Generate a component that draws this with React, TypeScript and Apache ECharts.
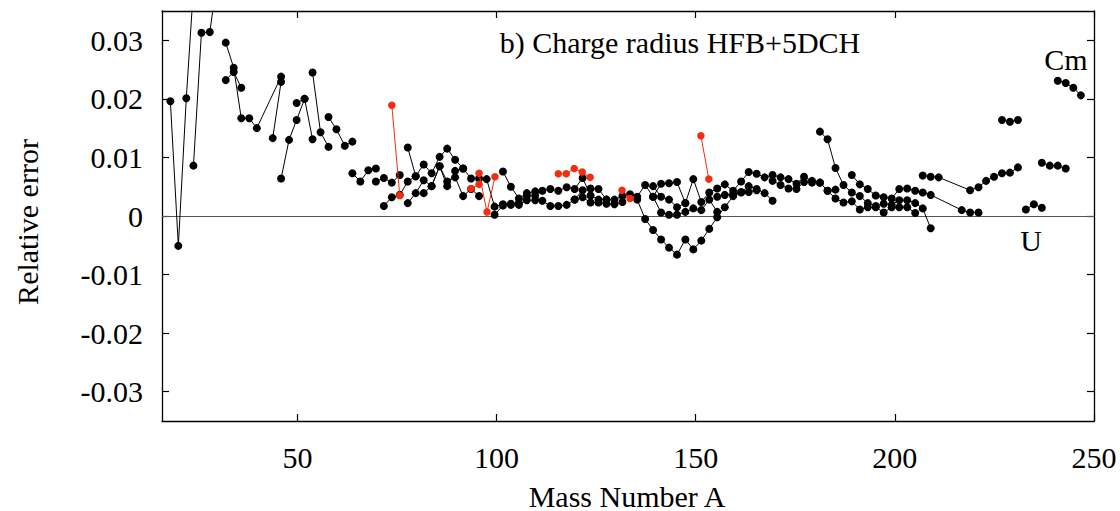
import React, { useEffect, useRef } from "react";
import * as echarts from "echarts";

type Pt = [number, number];

// x-axis and y-axis tick values
const xTicks = [50, 100, 150, 200, 250];
const yTicks = [-0.03, -0.02, -0.01, 0, 0.01, 0.02, 0.03];

// ---- black chains (Mass number A, relative error) ----
const c01: Pt[] = [[18.1, 0.0196], [20.1, -0.0051], [22.1, 0.0201], [24.0, 0.0400]];
const c02: Pt[] = [[23.9, 0.0086], [25.9, 0.0313], [28.0, 0.0314], [30.0, 0.0410]];
const c03: Pt[] = [[32.0, 0.0296], [34.0, 0.0253], [35.9, 0.0167], [37.9, 0.0167], [39.8, 0.0150], [45.9, 0.0238]];
const c04: Pt[] = [[32.0, 0.0232], [34.0, 0.0246], [35.9, 0.0219]];
const c05: Pt[] = [[43.8, 0.0133], [45.9, 0.0229]];
const c06: Pt[] = [[45.9, 0.0064], [47.9, 0.0130], [49.8, 0.0164], [51.8, 0.0200], [53.8, 0.0131]];
const c07: Pt[] = [[49.8, 0.0193], [51.8, 0.0200]];
const c08: Pt[] = [[53.8, 0.0245], [55.8, 0.0143], [57.8, 0.0118]];
const c09: Pt[] = [[57.8, 0.0169], [59.8, 0.0148], [61.9, 0.0120], [63.8, 0.0127]];
const c10: Pt[] = [[63.8, 0.0073], [65.8, 0.0059], [67.8, 0.0078], [69.7, 0.0081]];
const c11: Pt[] = [[69.7, 0.0059], [71.7, 0.0065], [73.7, 0.0057], [75.7, 0.0070]];
const c12: Pt[] = [[71.7, 0.0017], [73.7, 0.0032], [75.7, 0.0036], [77.7, 0.0059], [79.7, 0.0068], [81.7, 0.0088], [83.7, 0.0073], [85.7, 0.0101], [87.6, 0.0115], [89.6, 0.0096], [91.6, 0.0081], [93.6, 0.0064], [95.6, 0.0064], [97.5, 0.0063], [99.5, 0.0016], [101.6, 0.0020], [103.6, 0.0019], [105.6, 0.0019], [107.6, 0.0027], [109.7, 0.0027], [111.5, 0.0026], [113.5, 0.0017], [115.5, 0.0017], [117.6, 0.0019], [119.6, 0.0028], [121.6, 0.0032], [123.6, 0.0023], [125.6, 0.0023], [127.6, 0.0021], [129.6, 0.0020], [131.6, 0.0024]];
const c13: Pt[] = [[77.7, 0.0117], [79.7, 0.0068]];
const c14: Pt[] = [[77.7, 0.0022], [79.7, 0.0039], [81.7, 0.0061], [83.7, 0.0051], [85.7, 0.0085], [87.6, 0.0059], [89.6, 0.0066], [91.6, 0.0034], [93.6, 0.0046], [95.6, 0.0034]];
const c15: Pt[] = [[81.7, 0.0039], [83.7, 0.0051], [85.7, 0.0085], [87.6, 0.0051], [89.6, 0.0077], [91.6, 0.0081]];
const c16: Pt[] = [[101.6, 0.0076], [103.6, 0.0050], [105.6, 0.0030], [107.6, 0.0039], [109.7, 0.0042], [111.5, 0.0043], [113.5, 0.0046], [115.5, 0.0043], [117.6, 0.0049], [119.6, 0.0046], [121.6, 0.0065], [123.6, 0.0035], [125.6, 0.0028], [127.6, 0.0028], [129.6, 0.0028], [131.6, 0.0034], [133.5, 0.0037], [135.3, 0.0033], [137.3, 0.0053], [139.3, 0.0033], [141.3, 0.0006], [143.3, 0.0002], [145.3, 0.0002], [147.4, 0.0007], [149.4, 0.0013], [151.4, 0.0010], [153.4, 0.0028], [155.4, 0.0007]];
const c17: Pt[] = [[99.5, 0.0002], [101.6, 0.0018], [103.6, 0.0021], [105.6, 0.0022], [107.6, 0.0034], [109.7, 0.0035]];
const c18: Pt[] = [[119.6, 0.0028], [121.6, 0.0044], [123.6, 0.0047], [125.6, 0.0046], [127.6, 0.0028]];
const c19: Pt[] = [[135.3, 0.0028], [137.3, -0.0005], [139.3, -0.0024], [141.3, -0.0040], [143.3, -0.0054], [145.3, -0.0066], [147.4, -0.0040], [149.4, -0.0057], [151.4, -0.0042], [153.4, -0.0022], [155.4, -0.0002], [157.3, 0.0015], [159.4, 0.0034], [161.4, 0.0041], [163.3, 0.0051], [165.3, 0.0046], [167.3, 0.0039], [169.3, 0.0026]];
const c20: Pt[] = [[139.3, 0.0051], [141.3, 0.0033], [143.3, 0.0028], [145.3, 0.0015], [147.4, 0.0022], [149.4, 0.0063], [151.4, 0.0024], [153.4, 0.0040], [155.4, 0.0047], [157.3, 0.0054], [159.4, 0.0043], [161.4, 0.0059], [163.3, 0.0075], [165.3, 0.0072], [167.3, 0.0066], [169.3, 0.0070], [171.3, 0.0066], [173.3, 0.0063], [175.3, 0.0055], [177.2, 0.0067], [179.2, 0.0060], [181.2, 0.0057], [183.1, 0.0043], [185.1, 0.0030], [187.1, 0.0023], [189.2, 0.0025], [191.2, 0.0011], [193.2, 0.0015], [195.2, 0.0015], [197.2, 0.0006], [199.2, 0.0015], [201.1, 0.0015], [203.1, 0.0015], [205.1, 0.0005]];
const c21: Pt[] = [[139.3, 0.0033], [141.3, 0.0055], [143.3, 0.0056], [145.3, 0.0058], [147.4, 0.0022]];
const c22: Pt[] = [[155.4, 0.0033], [157.3, 0.0036], [159.4, 0.0037], [161.4, 0.0040], [163.3, 0.0041], [165.3, 0.0044]];
const c23: Pt[] = [[169.3, 0.0060], [171.3, 0.0053], [173.3, 0.0047], [175.3, 0.0046], [177.2, 0.0058], [179.2, 0.0057], [181.2, 0.0057], [183.1, 0.0043], [185.1, 0.0045]];
const c24: Pt[] = [[189.2, 0.0070], [191.2, 0.0054], [193.2, 0.0046], [195.2, 0.0035], [197.2, 0.0032], [199.2, 0.0030], [201.1, 0.0046], [203.1, 0.0047], [205.1, 0.0043], [207.0, 0.0040], [209.0, 0.0036], [216.8, 0.0010], [218.9, 0.0006], [221.0, 0.0006]];
const c25: Pt[] = [[181.2, 0.0144], [183.1, 0.0131], [185.1, 0.0082], [187.1, 0.0053], [189.2, 0.0040], [191.2, 0.0034], [193.2, 0.0022], [195.2, 0.0017], [197.2, 0.0021], [199.2, 0.0019], [201.1, 0.0027], [203.1, 0.0027], [205.1, 0.0022], [207.0, 0.0013], [209.0, -0.0021]];
const c26: Pt[] = [[207.0, 0.0069], [209.0, 0.0067], [211.0, 0.0066], [218.9, 0.0044], [221.0, 0.0049], [222.9, 0.0060], [224.9, 0.0067], [226.9, 0.0073], [228.9, 0.0074], [230.9, 0.0083]];
const c27: Pt[] = [[226.9, 0.0164], [228.9, 0.0161], [230.9, 0.0164]];
const c28: Pt[] = [[232.9, 0.0011], [234.9, 0.0020], [236.9, 0.0014]];
const c29: Pt[] = [[236.9, 0.0091], [238.9, 0.0086], [240.9, 0.0086], [242.9, 0.0081]];
const c30: Pt[] = [[240.9, 0.0231], [242.9, 0.0227], [244.8, 0.0219], [246.7, 0.0206]];

// ---- red chains ----
const r1: Pt[] = [[73.7, 0.0189], [75.7, 0.0035]];
const r2: Pt[] = [[93.6, 0.0047], [95.6, 0.0054]];
const r3: Pt[] = [[95.6, 0.0073], [97.6, 0.0007], [99.6, 0.0067]];
const r4: Pt[] = [[115.5, 0.0072], [117.5, 0.0072], [119.5, 0.0081], [121.5, 0.0075], [123.5, 0.0066]];
const r5: Pt[] = [[131.5, 0.0044], [133.5, 0.0030]];
const r6: Pt[] = [[151.3, 0.0137], [153.3, 0.0063]];

const blackChains = [c01, c02, c03, c04, c05, c06, c07, c08, c09, c10, c11, c12, c13, c14, c15, c16, c17, c18, c19, c20, c21, c22, c23, c24, c25, c26, c27, c28, c29, c30];
const redChains = [r1, r2, r3, r4, r5, r6];

const FONT = "'Liberation Serif', 'Times New Roman', serif";
const FS = 30;

export default function App() {
  const ref = useRef<HTMLDivElement>(null);

  useEffect(() => {
    if (!ref.current) return;
    const chart = echarts.init(ref.current, undefined, { renderer: "svg" });

    const mk = (d: Pt[], color: string, size: number, z: number, extra: any = {}) => ({
      type: "line",
      data: d,
      symbol: "circle",
      symbolSize: size,
      showSymbol: true,
      clip: true,
      z,
      itemStyle: { color },
      lineStyle: { color, width: 1 },
      emphasis: { disabled: true },
      ...extra,
    });

    const series: any[] = [];
    blackChains.forEach((d, i) =>
      series.push(
        mk(d, "#000", 8, 3, i === 0
          ? {
              markLine: {
                silent: true,
                symbol: "none",
                label: { show: false },
                lineStyle: { color: "#555", width: 1, type: "solid" },
                data: [{ yAxis: 0 }],
                z: 1,
              },
            }
          : {})
      )
    );
    redChains.forEach((d) => series.push(mk(d, "#f42c10", 7.5, 4)));

    const axisLine = { show: true, onZero: false, lineStyle: { color: "#000", width: 1.3 } };
    const tickStyle = { color: "#000", width: 1.2 };

    chart.setOption({
      animation: false,
      grid: { left: 162, right: 26, top: 11, bottom: 90, containLabel: false, outerBoundsMode: "none" },
      xAxis: [
        {
          type: "value",
          min: 16,
          max: 250,
          position: "bottom",
          axisLine,
          splitLine: { show: false },
          axisTick: { show: true, inside: true, length: 7, lineStyle: tickStyle, customValues: xTicks },
          axisLabel: {
            show: true,
            customValues: xTicks,
            margin: 21,
            color: "#000",
            fontFamily: FONT,
            fontSize: FS,
            showMinLabel: true,
            showMaxLabel: true,
          },
        },
        {
          type: "value",
          min: 16,
          max: 250,
          position: "top",
          axisLine,
          splitLine: { show: false },
          axisTick: { show: true, inside: true, length: 7, lineStyle: tickStyle, customValues: xTicks },
          axisLabel: { show: false },
        },
      ],
      yAxis: [
        {
          type: "value",
          min: -0.035,
          max: 0.035,
          position: "left",
          axisLine,
          splitLine: { show: false },
          axisTick: { show: true, inside: true, length: 7, lineStyle: tickStyle, customValues: yTicks },
          axisLabel: {
            show: true,
            customValues: yTicks,
            margin: 19,
            color: "#000",
            fontFamily: FONT,
            fontSize: FS,
            formatter: (v: number) => (Math.abs(v) < 1e-9 ? "0" : v.toFixed(2)),
          },
        },
        {
          type: "value",
          min: -0.035,
          max: 0.035,
          position: "right",
          axisLine,
          splitLine: { show: false },
          axisTick: { show: true, inside: true, length: 7, lineStyle: tickStyle, customValues: yTicks },
          axisLabel: { show: false },
        },
      ],
      graphic: [
        {
          type: "text",
          x: 680,
          y: 42,
          style: { text: "b) Charge radius HFB+5DCH", font: `${FS}px ${FONT}`, fill: "#000", textAlign: "center", textVerticalAlign: "middle" },
        },
        {
          type: "text",
          x: 1066,
          y: 59,
          style: { text: "Cm", font: `${FS}px ${FONT}`, fill: "#000", textAlign: "center", textVerticalAlign: "middle" },
        },
        {
          type: "text",
          x: 1031,
          y: 240,
          style: { text: "U", font: `${FS}px ${FONT}`, fill: "#000", textAlign: "center", textVerticalAlign: "middle" },
        },
        {
          type: "text",
          x: 627,
          y: 496,
          style: { text: "Mass Number A", font: `${FS}px ${FONT}`, fill: "#000", textAlign: "center", textVerticalAlign: "middle" },
        },
        {
          type: "text",
          x: 27,
          y: 222,
          rotation: Math.PI / 2,
          style: { text: "Relative error", font: `${FS}px ${FONT}`, fill: "#000", textAlign: "center", textVerticalAlign: "middle" },
        },
      ],
      series,
    });

    return () => chart.dispose();
  }, []);

  return (
    <div
      ref={ref}
      style={{ position: "fixed", left: 0, top: 0, width: 1120, height: 511, background: "#fff" }}
    />
  );
}
